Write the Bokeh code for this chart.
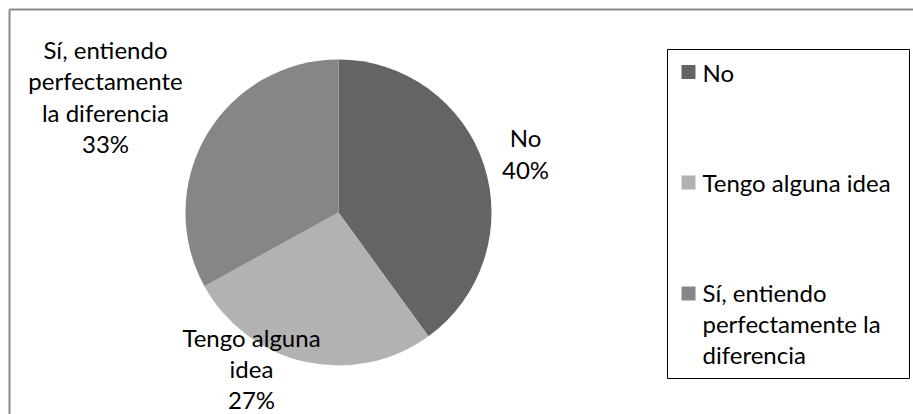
import math
from bokeh.plotting import figure
from bokeh.models import Range1d, ColumnDataSource
from bokeh.core.properties import value
from bokeh.embed import file_html
from bokeh.resources import INLINE

# ---- data ----
categories = ["No", "Tengo alguna idea", "Sí, entiendo perfectamente la diferencia"]
values = [40, 27, 33]
colors = ["#646464", "#b2b2b2", "#868686"]
pie_label_names = ["No", "Tengo alguna\nidea", "Sí, entiendo\nperfectamente\nla diferencia"]
legend_labels = ["No", "Tengo alguna idea", "Sí, entiendo\nperfectamente la\ndiferencia"]

# ---- layout ----
W, H = 913, 414
def Y(y):
    return H - y

FONT = value("Lato")
FS = "24px"
LH = 1.07

p = figure(width=W, height=H, output_backend="svg", toolbar_location=None,
           x_range=Range1d(0, W), y_range=Range1d(0, H),
           x_axis_location=None, y_axis_location=None, min_border=0)
p.grid.visible = False
p.outline_line_color = None
p.background_fill_color = "white"

# outer frame (top and left edges visible)
p.line(x=[9, 9], y=[0, Y(9)], line_color="#8a8a8a", line_width=2)
p.line(x=[9, W], y=[Y(9), Y(9)], line_color="#8a8a8a", line_width=2)

# pie
total = sum(values)
cx, cy, r = 338, Y(212), 153
starts, ends = [], []
acc = 0
for v in values:
    starts.append(math.pi / 2 - 2 * math.pi * acc / total)
    acc += v
    ends.append(math.pi / 2 - 2 * math.pi * acc / total)
src = ColumnDataSource(dict(start=starts, end=ends, color=colors, cat=categories))
p.wedge(x=cx, y=cy, radius=r, radius_units="screen", start_angle="start", end_angle="end",
        direction="clock", fill_color="color", line_color=None, source=src)

# pie labels (block centres)
lab_x = [525, 251, 105]
lab_y = [Y(153), Y(368), Y(96)]
lab_text = [f"{n}\n{round(100 * v / total)}%" for n, v in zip(pie_label_names, values)]
p.text(x=lab_x, y=lab_y, text=lab_text, text_font=FONT, text_font_size=FS,
       text_align="center", text_baseline="middle", text_line_height=LH, text_color="black")

# legend box
p.quad(left=667, right=909, top=Y(49), bottom=Y(378), fill_color="white", line_color="black", line_width=1)
sq_y = [71.5, 182, 293]
txt_y = [71.5, 182, 323]
p.rect(x=[688] * 3, y=[Y(v) for v in sq_y], width=14, height=14,
       width_units="screen", height_units="screen", fill_color=colors, line_color=None)
p.text(x=[702] * 3, y=[Y(v) for v in txt_y], text=legend_labels, text_font=FONT,
       text_font_size=FS, text_align="left", text_baseline="middle", text_line_height=LH,
       text_color="black")

open("out.html", "w").write(file_html(p, INLINE))
